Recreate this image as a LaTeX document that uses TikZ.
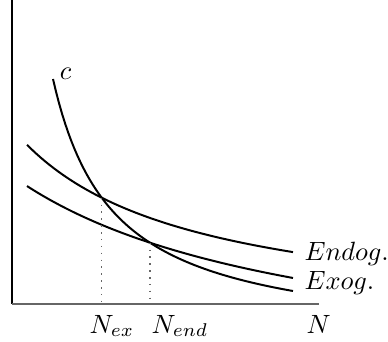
\documentclass[tikz,border=0pt]{standalone}
\usepackage{amsmath}
\usepackage{tikz}
\usetikzlibrary{
  calc,
  intersections
}

\begin{document}
\begin{tikzpicture}[x=0.0133cm, y=0.0133cm,
			ax/.style={-, line width=0.7pt},
			cv/.style={line width=0.75pt, black},
			dt/.style={dotted, black!60, line width=0.6pt},
			lb/.style={inner sep=0pt}
			]
			\useasboundingbox (-12,-38) rectangle (376,304);
			\coordinate (o) at (0,0);
			\coordinate (ytop) at (0,304);
			\coordinate (xend) at (307,0);
			\draw[ax] (o)--(ytop);
			\draw[ax, black!60] (o)--(xend);
			% curves
			\draw[cv, name path=cc] plot[domain=41:281, samples=80]
				(\x, {159/(\x+19)*100-40});
			\draw[cv, name path=endog] plot[domain=15:281, samples=60]
				(\x, {319.5/(\x+163.3)*100-20});
			\draw[cv, name path=exog] plot[domain=15:281, samples=60]
				(\x, {607.3/(\x+291.8)*100-80});
			\path[name intersections={of=cc and endog, by=ex}];
			\path[name intersections={of=cc and exog, by=end}];
			\draw[dt] (ex)--(ex |- o); \draw[dt] (end)--(end |- o);
			% labels
			\node[lb] (c) at (53.5,230.5) {$c$};
			\node[lb, anchor=base west] (endL) at (292,44) {$Endog.$};
			\node[lb, anchor=base west] (exL) at (292,15) {$Exog.$};
			\node[lb, anchor=base west] (nex) at (77,-29) {$N_{ex}$};
			\node[lb, anchor=base west] (nend) at (139,-29) {$N_{end}$};
			\node[lb, anchor=base west] (n) at (294,-29) {$N$};
	\end{tikzpicture}
\end{document}
